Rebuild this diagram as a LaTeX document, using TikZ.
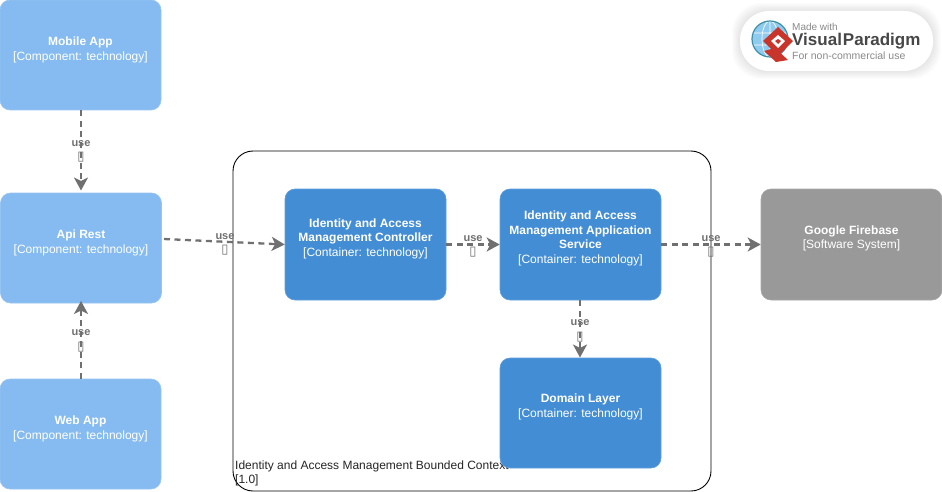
\documentclass[tikz,border=0pt]{standalone}
\usepackage{fontspec}
\setmainfont{Liberation Sans}
\newfontfamily\symfont{DejaVu Sans}
\usetikzlibrary{arrows.meta}
\definecolor{lightblue}{HTML}{85BBF0}
\definecolor{darkblue}{HTML}{438DD5}
\definecolor{sysgray}{HTML}{999999}
\definecolor{linegray}{HTML}{707070}
\definecolor{logored}{HTML}{C8352B}
\definecolor{logotext}{HTML}{8A8A8A}
\definecolor{globeblue}{HTML}{8FCBEF}
\definecolor{globeedge}{HTML}{3E8FA8}
\tikzset{
  basebox/.style={draw=#1!85!white,fill=#1,line width=0.6pt,rounded corners=10pt,text=white,align=center,inner sep=0pt,
     font=\fontsize{12}{14.5}\selectfont},
  compbox/.style={basebox=lightblue,minimum width=161pt,minimum height=110pt},
  contbox/.style={basebox=darkblue,minimum width=161pt,minimum height=111pt},
  sysbox/.style={basebox=sysgray,minimum width=181pt,minimum height=111pt},
  uselink/.style={draw=linegray,line width=2.3pt,dash pattern=on 6pt off 4.5pt,-{Stealth[length=13pt,width=14pt,inset=3.5pt]}},
  uselabel/.style={text=linegray,font=\fontsize{11}{13}\selectfont\bfseries,inner sep=0pt},
  tofu/.style={text=linegray,font=\symfont\fontsize{13}{15}\selectfont,inner sep=0pt},
  boundary/.style={draw=black,line width=0.9pt,rounded corners=20pt},
  boundarytext/.style={anchor=north west,align=left,inner sep=0pt,text=black!85,font=\fontsize{12}{14.5}\selectfont},
}
\newcommand{\ghostline}{\phantom{X}}
\begin{document}
\begin{tikzpicture}[x=1pt,y=-1pt]
\useasboundingbox (0,0) rectangle (942,492);
\fill[white] (0,0) rectangle (942,492);

% boundary
\node[boundary,minimum width=478pt,minimum height=340pt,inner sep=0pt] (ctx) at (472,321) {};
\node[boundarytext] (ctxlabel) at (235,460.5) {Identity and Access Management Bounded Context\\{}[1.0]};

% boxes
\node[compbox] (mobile) at (80.5,55) {\textbf{Mobile App}\\{}[Component: technology]\\[-2pt]\ghostline};
\node[compbox] (api) at (81,248) {\textbf{Api Rest}\\{}[Component: technology]\\[-2pt]\ghostline};
\node[compbox] (web) at (80.5,434) {\textbf{Web App}\\{}[Component: technology]\\[-2pt]\ghostline};
\node[contbox] (ctrl) at (365.5,244.5) {\textbf{Identity and Access}\\\textbf{Management Controller}\\{}[Container: technology]\\\ghostline};
\node[contbox] (app) at (580.5,244.5) {\textbf{Identity and Access}\\\textbf{Management Application}\\\textbf{Service}\\{}[Container: technology]\\\ghostline};
\node[contbox,minimum height=110pt] (domain) at (580.5,413) {\textbf{Domain Layer}\\{}[Container: technology]\\\ghostline};
\node[sysbox] (firebase) at (851.5,244.5) {\textbf{Google Firebase}\\{}[Software System]\\\ghostline};

% connectors
\coordinate (apiout) at (164,239);
\coordinate (apitop) at (81,190.5);
\coordinate (apibot) at (81,301);
\coordinate (domaintop) at (580,357.5);
\draw[uselink] (mobile.south -| apitop) -- (apitop);
\draw[uselink] (web.north -| apibot) -- (apibot);
\draw[uselink] (apiout) -- (ctrl.west);
\draw[uselink] (ctrl.east) -- (app.west);
\draw[uselink] (app.east) -- (firebase.west);
\draw[uselink] (app.south -| domaintop) -- (domaintop);

% connector labels
\node[uselabel] (u1) at (81,144) {use};
\node[tofu] (t1) at (81,157.5) {▯};
\node[uselabel] (u2) at (81,333) {use};
\node[tofu] (t2) at (81,347) {▯};
\node[uselabel] (u3) at (225,237) {use};
\node[tofu] (t3) at (225,250) {▯};
\node[uselabel] (u4) at (473,239) {use};
\node[tofu] (t4) at (473,252) {▯};
\node[uselabel] (u5) at (711,239) {use};
\node[tofu] (t5) at (711,252) {▯};
\node[uselabel] (u6) at (580,323) {use};
\node[tofu] (t6) at (580,337) {▯};

% logo
\foreach \g in {8,7,...,1}{
  \fill[black,opacity=0.012,rounded corners=29pt] (740-\g,11-\g) rectangle (933+\g,71+\g);
}
\fill[white,rounded corners=29pt] (740,11) rectangle (933,71);
\fill[globeblue] (770,39) circle (18pt);
\draw[white,line width=0.7pt] (770,39) ellipse (8pt and 18pt) (753,33) -- (787,33) (753,45) -- (787,45) (770,21) -- (770,57);
\draw[globeedge,line width=1.2pt] (770,39) circle (18pt);
\fill[logored] (775,48) -- (788,60) -- (776,62) -- (764,51) -- cycle;
\fill[logored] (778,27) -- (793,41) -- (778,56) -- (763,41) -- cycle;
\fill[white] (778,35) -- (785,41) -- (778,48) -- (771,41) -- cycle;
\fill[logored] (778,39) -- (781,41) -- (778,44) -- (775,41) -- cycle;
\node[anchor=west,inner sep=0pt,text=logotext,font=\fontsize{10}{12}\selectfont] (made) at (792,26.5) {Made with};
\node[anchor=west,inner sep=0pt,text=black!72,font=\fontsize{17}{20}\selectfont\bfseries] (vp) at (792,41.5) {Visual\kern1pt Paradigm};
\node[anchor=west,inner sep=0pt,text=logotext,font=\fontsize{10.5}{12}\selectfont] (forn) at (792,56) {For non-commercial use};
\end{tikzpicture}
\end{document}
